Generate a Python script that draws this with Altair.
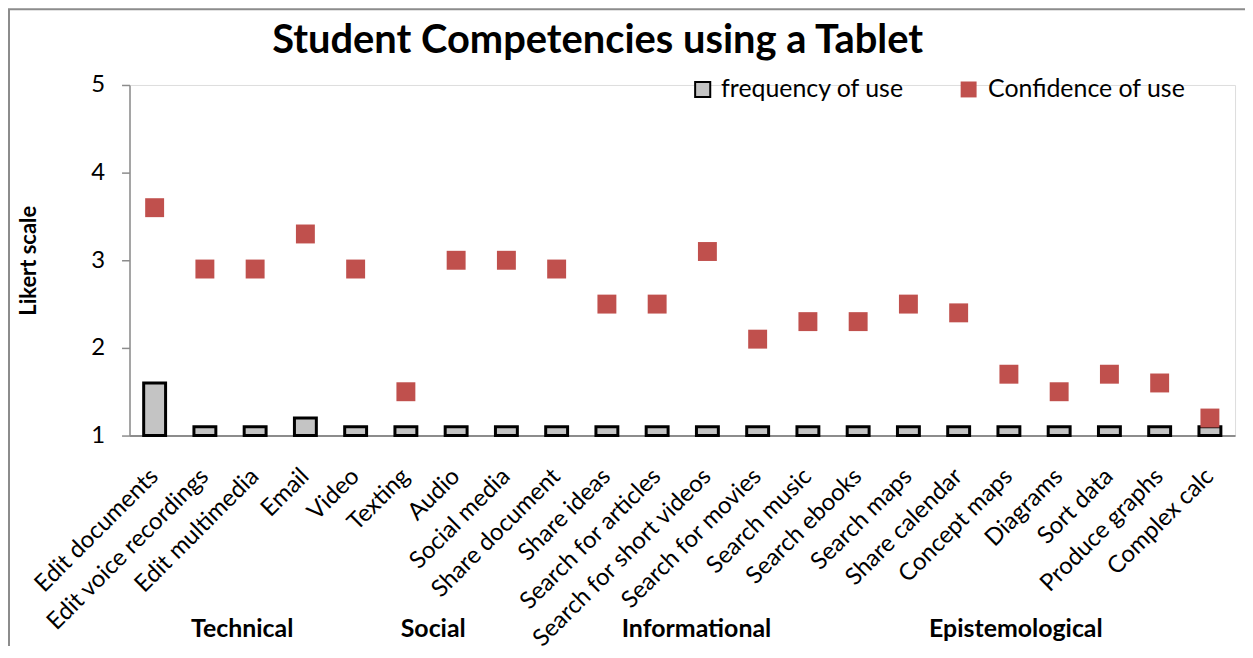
import altair as alt
import pandas as pd

categories = ["Edit  documents", "Edit voice recordings", "Edit multimedia", "Email", "Video",
              "Texting", "Audio", "Social media", "Share document", "Share ideas",
              "Search for articles", "Search for short videos", "Search for movies",
              "Search music", "Search ebooks", "Search maps", "Share calendar",
              "Concept maps", "Diagrams", "Sort data", "Produce graphs", "Complex calc"]
frequency = [1.6, 1.1, 1.1, 1.2, 1.1, 1.1, 1.1, 1.1, 1.1, 1.1, 1.1,
             1.1, 1.1, 1.1, 1.1, 1.1, 1.1, 1.1, 1.1, 1.1, 1.1, 1.1]
confidence = [3.6, 2.9, 2.9, 3.3, 2.9, 1.5, 3.0, 3.0, 2.9, 2.5, 2.5,
              3.1, 2.1, 2.3, 2.3, 2.5, 2.4, 1.7, 1.5, 1.7, 1.6, 1.2]

groups = ["Technical", "Social", "Informational", "Epistemological"]
group_anchor = ["Edit multimedia", "Audio", "Search for short videos", "Concept maps"]
group_dx = [-13, -23, -11, 7]

title_text = "Student Competencies using a Tablet"

FONT = "Lato"
W, H = 1110, 352

df = pd.DataFrame({"category": categories, "frequency": frequency, "confidence": confidence,
                   "s1": "frequency of use", "s2": "Confidence of use"})

xenc = alt.X("category:N", sort=categories, title=None,
             scale=alt.Scale(paddingInner=0, paddingOuter=0),
             axis=alt.Axis(labelAngle=-45, labelAlign="right", labelBaseline="middle",
                           labelFontSize=24, labelFont=FONT, labelColor="black",
                           labelPadding=37, ticks=False, domainColor="#8c8c8c",
                           domainWidth=2, labelLimit=400))
yscale = alt.Scale(domain=[1, 5], zero=False, nice=False)

border = alt.Chart(df.head(1)).mark_rect(fill=None, stroke="#8c8c8c", strokeWidth=2).encode(
    x=alt.value(-121), x2=alt.value(1300), y=alt.value(-76), y2=alt.value(700))

title = alt.Chart(pd.DataFrame({"t": [title_text]})).mark_text(
    font=FONT, fontSize=40, fontWeight="bold", color="black", align="center",
    baseline="alphabetic").encode(x=alt.value(470), y=alt.value(-32), text="t:N")

bars = alt.Chart(df).mark_bar(size=22, stroke="black", strokeWidth=3).encode(
    x=xenc,
    y=alt.Y("frequency:Q", scale=yscale, title="Likert scale",
            axis=alt.Axis(values=[1, 2, 3, 4, 5], format="d", grid=False, tickSize=8,
                          tickColor="#8c8c8c", tickWidth=1.5, domainColor="#8c8c8c",
                          domainWidth=1.5, labelFontSize=24, labelFont=FONT,
                          labelColor="black", labelPadding=17,
                          titleFont=FONT, titleFontSize=22, titleFontWeight="bold",
                          titleColor="black", titlePadding=50)),
    y2=alt.datum(1),
    fill=alt.Fill("s1:N", scale=alt.Scale(domain=["frequency of use"], range=["#c4c4c4"]),
                  legend=alt.Legend(title=None, orient="none", legendX=563, legendY=-8,
                                    symbolType="square", symbolSize=230,
                                    symbolStrokeColor="black", symbolStrokeWidth=2,
                                    symbolFillColor="#c4c4c4", labelLimit=400,
                                    labelFont=FONT, labelFontSize=25, labelColor="black",
                                    labelOffset=6, padding=0)),
)

points = alt.Chart(df).mark_square(size=361, opacity=1).encode(
    x=alt.X("category:N", sort=categories),
    y=alt.Y("confidence:Q", scale=yscale),
    color=alt.Color("s2:N", scale=alt.Scale(domain=["Confidence of use"], range=["#C0504D"]),
                    legend=alt.Legend(title=None, orient="none", legendX=830, legendY=-8,
                                      symbolType="square", symbolSize=256, labelLimit=400,
                                      labelFont=FONT, labelFontSize=25, labelColor="black",
                                      labelOffset=7, padding=0)),
)

group_layers = []
for g, a, d in zip(groups, group_anchor, group_dx):
    gdf = pd.DataFrame({"category": [a], "label": [g]})
    group_layers.append(
        alt.Chart(gdf).mark_text(font=FONT, fontSize=25, fontWeight="bold", color="black",
                                 baseline="middle", align="center", dx=d).encode(
            x=alt.X("category:N", sort=categories), y=alt.value(546), text="label:N"))

chart = alt.layer(border, title, bars, points, *group_layers).resolve_scale(
    fill="independent", color="independent"
).properties(
    width=W, height=H,
    autosize=alt.AutoSizeParams(type="none"),
    padding={"left": 122, "top": 76, "right": 10, "bottom": 210},
).configure_view(stroke=None).configure(background="white")

chart.save("out.html", embed_options={"renderer": "svg", "actions": False})
